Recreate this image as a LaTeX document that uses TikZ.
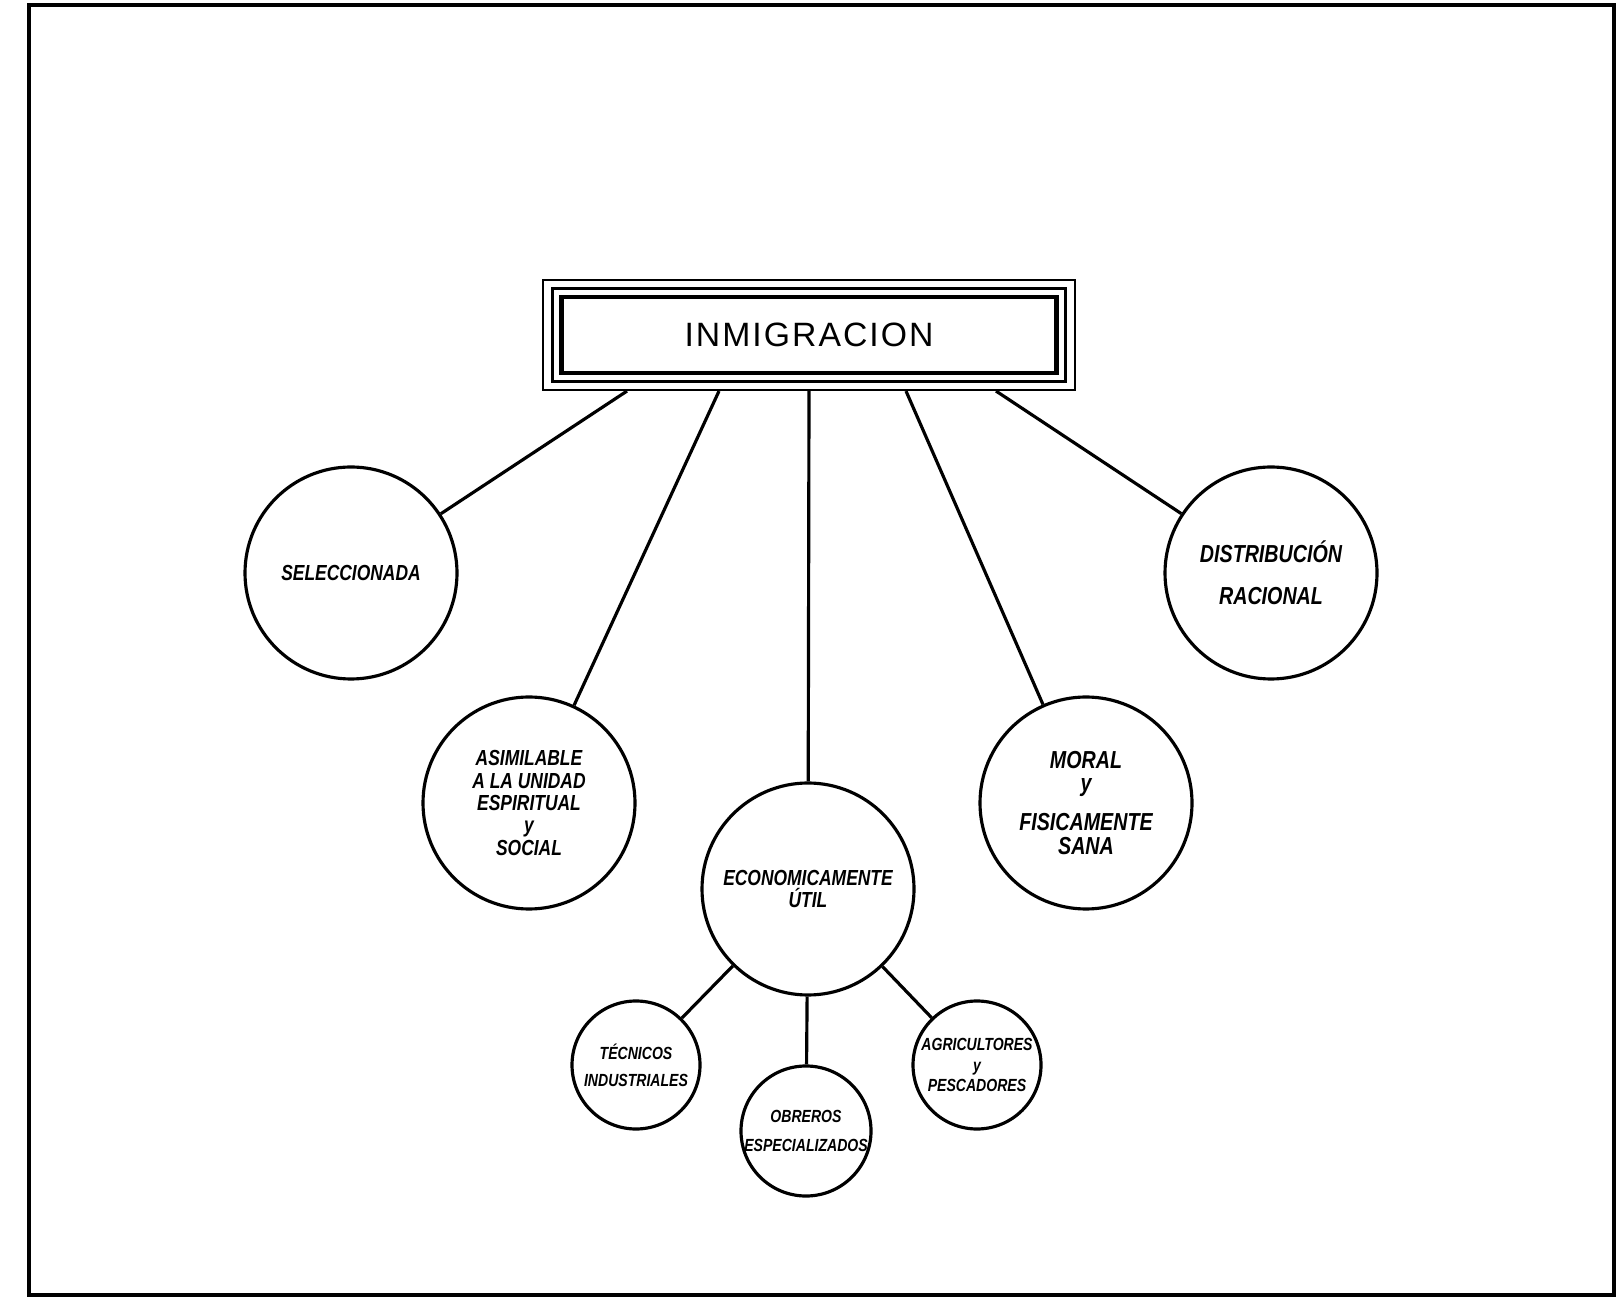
\documentclass[tikz,border=0pt]{standalone}
\usepackage{fontspec}
\setmainfont{Liberation Sans}
\newfontfamily\handfont[FakeStretch=0.8]{Liberation Sans}
\newfontfamily\titlefont[LetterSpace=6]{Liberation Sans}
\newcommand{\handlettering}{\handfont\bfseries\itshape}
\begin{document}
\begin{tikzpicture}[
  bigcirc/.style={circle,draw,line width=0.9pt,minimum size=2.12cm,inner sep=0pt,align=center,
    font=\handlettering\fontsize{6.2}{6.4}\selectfont},
  smallcirc/.style={bigcirc,minimum size=1.28cm,font=\handlettering\fontsize{5}{7.7}\selectfont},
  link/.style={line width=0.9pt}]
 \useasboundingbox (0,0) rectangle (16.2,12.99);
 \draw[line width=1.2pt] (0.29,0.04) rectangle (16.14,12.94);
 \node[draw,line width=1.3pt,minimum width=4.95cm,minimum height=0.76cm,inner sep=0pt,
   font=\titlefont\fontsize{9.6}{10}\selectfont] (title) at (8.09,9.64) {INMIGRACION\hspace{5pt}};
 \node[draw,line width=0.6pt,minimum width=5.13cm,minimum height=0.93cm] (titlemid) at (title) {};
 \node[draw,line width=0.6pt,minimum width=5.32cm,minimum height=1.10cm] (titleout) at (title) {};
 \coordinate (t1) at ([xshift=-1.82cm]titleout.south);
 \coordinate (t2) at ([xshift=-0.90cm]titleout.south);
 \coordinate (t3) at (titleout.south);
 \coordinate (t4) at ([xshift=0.97cm]titleout.south);
 \coordinate (t5) at ([xshift=1.87cm]titleout.south);
 \node[bigcirc] (sel) at (3.51,7.26) {SELECCIONADA};
 \node[bigcirc] (asi) at (5.29,4.96) {ASIMILABLE\\A LA UNIDAD\\ESPIRITUAL\\y\\SOCIAL};
 \node[bigcirc,font=\handlettering\fontsize{6.2}{6.5}\selectfont] (eco) at (8.08,4.10) {ECONOMICAMENTE\\ÚTIL};
 \node[bigcirc,font=\handlettering\fontsize{7}{6.8}\selectfont] (mor) at (10.86,4.96) {MORAL\\y\\[4.3pt]FISICAMENTE\\SANA};
 \node[bigcirc,font=\handlettering\fontsize{7}{6.8}\selectfont] (dis) at (12.71,7.26) {DISTRIBUCIÓN\\[5.2pt]RACIONAL};
 \node[smallcirc] (tec) at (6.36,2.34) {TÉCNICOS\\INDUSTRIALES};
 \node[smallcirc,font=\handlettering\fontsize{5}{8.2}\selectfont] (obr) at (8.06,1.68) {OBREROS\\ESPECIALIZADOS};
 \node[smallcirc,font=\handlettering\fontsize{5}{5.8}\selectfont] (agr) at (9.77,2.34) {AGRICULTORES\\y\\PESCADORES};
 \draw[link] (t1) -- (sel);
 \draw[link] (t2) -- (asi);
 \draw[link] (t3) -- (eco);
 \draw[link] (t4) -- (mor);
 \draw[link] (t5) -- (dis);
 \draw[link] (eco) -- (tec);
 \draw[link] (eco) -- (obr);
 \draw[link] (eco) -- (agr);
\end{tikzpicture}
\end{document}
